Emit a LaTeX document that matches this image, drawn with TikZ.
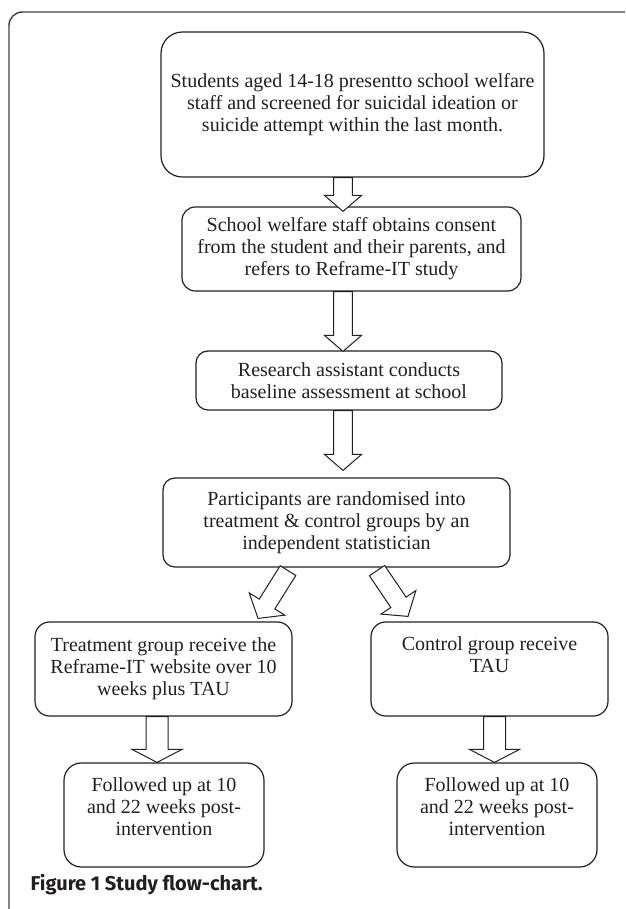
\documentclass[tikz,border=0pt]{standalone}
\usepackage{fontspec}
\setmainfont{Liberation Serif}
\newfontfamily\capfont{Fira Sans}
\usepackage{tikz}
\usetikzlibrary{calc,positioning}
\definecolor{ink}{RGB}{35,31,32}

% hollow block arrow: from, to, shaft half width, head half width, head length
\newcommand{\hollowarrow}[5]{%
  \coordinate (ha-a) at (#1);
  \coordinate (ha-b) at (#2);
  \coordinate (ha-n) at ($(ha-b)!#5!(ha-a)$);
  \draw[hollow] ($(ha-a)!#3!90:(ha-b)$) -- ($(ha-n)!#3!90:(ha-b)$)
    -- ($(ha-n)!#4!90:(ha-b)$) -- (ha-b) -- ($(ha-n)!#4!-90:(ha-b)$)
    -- ($(ha-n)!#3!-90:(ha-b)$) -- ($(ha-a)!#3!-90:(ha-b)$) -- cycle;}

\begin{document}
\begin{tikzpicture}[
    x=0.75pt, y=-0.75pt,
    stage/.style={rectangle, draw=ink, line width=0.9pt, text=ink, align=center, inner sep=0pt, font=\fontsize{15pt}{16.5pt}\selectfont},
    boxdim/.style 2 args={minimum width=#1*0.75pt, minimum height=#2*0.75pt},
    toptext/.style={text height=#1, text depth=0pt},
    hollow/.style={draw=ink, fill=white, line width=0.75pt, line join=miter},
    frameline/.style={draw=ink!85, line width=1.1pt}
]
\useasboundingbox (0,0) rectangle (625,909);
\draw[frameline, rounded corners=10pt] (9,909) -- (9,12) -- (625,12);

\node[stage, boxdim={383}{145}, rounded corners=16pt] (screen) at (352.5,104.5)
    {Students aged 14-18 presentto school welfare\\staff and screened for suicidal ideation or\\suicide attempt within the last month.};
\node[stage, boxdim={339}{84}, rounded corners=10pt] (consent) at (351.5,249)
    {School welfare staff obtains consent\\from the student and their parents, and\\refers to Reframe-IT study};
\node[stage, boxdim={306}{59}, rounded corners=9pt] (baseline) at (349,380.5)
    {Research assistant conducts\\baseline assessment at school};
\node[stage, boxdim={347}{89}, rounded corners=9pt] (random) at (336.5,522.5)
    {Participants are randomised into\\treatment \& control groups by an\\independent statistician};
\node[stage, boxdim={257}{94}, rounded corners=11pt] (treat) at (163.5,669)
    {Treatment group receive the\\Reframe-IT website over 10\\weeks plus TAU};
\node[stage, boxdim={237}{94}, rounded corners=11pt, toptext=4.5pt] (control) at (489.5,669)
    {Control group receive\\TAU};
\node[stage, boxdim={200}{104}, rounded corners=13pt, toptext=30pt] (followT) at (164,815)
    {Followed up at 10\\and 22 weeks post-\\intervention};
\node[stage, boxdim={200}{104}, rounded corners=13pt, toptext=30pt] (followC) at (497,815)
    {Followed up at 10\\and 22 weeks post-\\intervention};

\hollowarrow{$(screen.south)+(-9.5,0)$}{$(consent.north)+(-8.5,5)$}{7.1pt}{13.9pt}{12pt}
\hollowarrow{$(consent.south)+(-8.5,0)$}{$(baseline.north)+(-6,1)$}{7.1pt}{13.9pt}{12pt}
\hollowarrow{$(baseline.south)+(-6,0)$}{$(random.north)+(6.5,-7)$}{7.1pt}{13.9pt}{12pt}
\hollowarrow{$(random.south)+(-48.5,3)$}{$(treat.north)+(94.5,-3)$}{6.9pt}{15.75pt}{12.75pt}
\hollowarrow{$(random.south)+(40.5,3)$}{$(control.north)+(-81.5,-5)$}{6.9pt}{15.75pt}{12.75pt}
\hollowarrow{$(treat.south)+(-6.5,0)$}{$(followT.north)+(-7,0)$}{8.25pt}{18.75pt}{9.75pt}
\hollowarrow{$(control.south)+(5,0)$}{$(followC.north)+(-2.5,0)$}{8.25pt}{18.75pt}{9.75pt}

\node[anchor=base west, text=ink, font=\capfont\bfseries\fontsize{15pt}{17pt}\selectfont] (caption) at (26,890) {Figure 1 Study flow-chart.};
\end{tikzpicture}
\end{document}
